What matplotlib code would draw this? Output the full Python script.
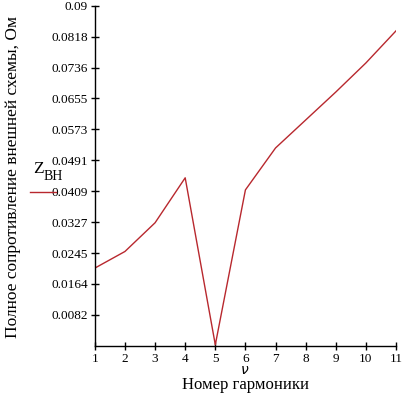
import matplotlib.pyplot as plt
from matplotlib.lines import Line2D

plt.rcParams['font.family'] = ['Liberation Serif', 'DejaVu Serif']

# Data
harmonic = [1, 2, 3, 4, 5, 6, 7, 8, 9, 10, 11]
z_bh = [0.0206, 0.0250, 0.0326, 0.0445, 0.0003, 0.0413, 0.0524, 0.0598, 0.0672, 0.0749, 0.0834]

y_ticks = [0.0082, 0.0164, 0.0245, 0.0327, 0.0409, 0.0491, 0.0573, 0.0655, 0.0736, 0.0818, 0.09]
y_labels = ['0.0082', '0.0164', '0.0245', '0.0327', '0.0409', '0.0491', '0.0573', '0.0655', '0.0736', '0.0818', '0.09']

line_color = '#b8282e'

fig = plt.figure(figsize=(4.07, 3.94), dpi=100)
ax = fig.add_axes([0.233, 0.122, 0.74, 0.863])

ax.plot(harmonic, z_bh, color=line_color, lw=1.0)

ax.set_xlim(1, 11)
ax.set_ylim(0, 0.09)
ax.set_xticks(harmonic)
ax.set_yticks(y_ticks)
ax.set_yticklabels(y_labels)

for s in ['top', 'right']:
    ax.spines[s].set_visible(False)
for s in ['left', 'bottom']:
    ax.spines[s].set_linewidth(1.0)

ax.tick_params(direction='inout', length=6, width=1.0, labelsize=9.5, pad=2)

# axis titles placed in figure pixels to match the original layout
fig.text(13 / 407, 1 - 177 / 394, 'Полное сопротивление внешней схемы, Ом',
         rotation=90, fontsize=12.5, ha='center', va='center')
fig.text(245 / 407, 1 - 371 / 394, '$\\nu$', fontsize=10, ha='center', va='center')
fig.text(245 / 407, 1 - 385 / 394, 'Номер гармоники', fontsize=12, ha='center', va='center')

# legend drawn by hand, left of the axis
fig.add_artist(Line2D([30 / 407, 56 / 407], [1 - 192 / 394, 1 - 192 / 394],
                      color=line_color, lw=1.0, transform=fig.transFigure))
fig.text(33 / 407, 1 - 169 / 394, 'Z', fontsize=12.5, va='center', ha='left')
fig.text(44 / 407, 1 - 176 / 394, 'ВН', fontsize=10, va='center', ha='left')

fig.savefig('out.png', dpi=100)
